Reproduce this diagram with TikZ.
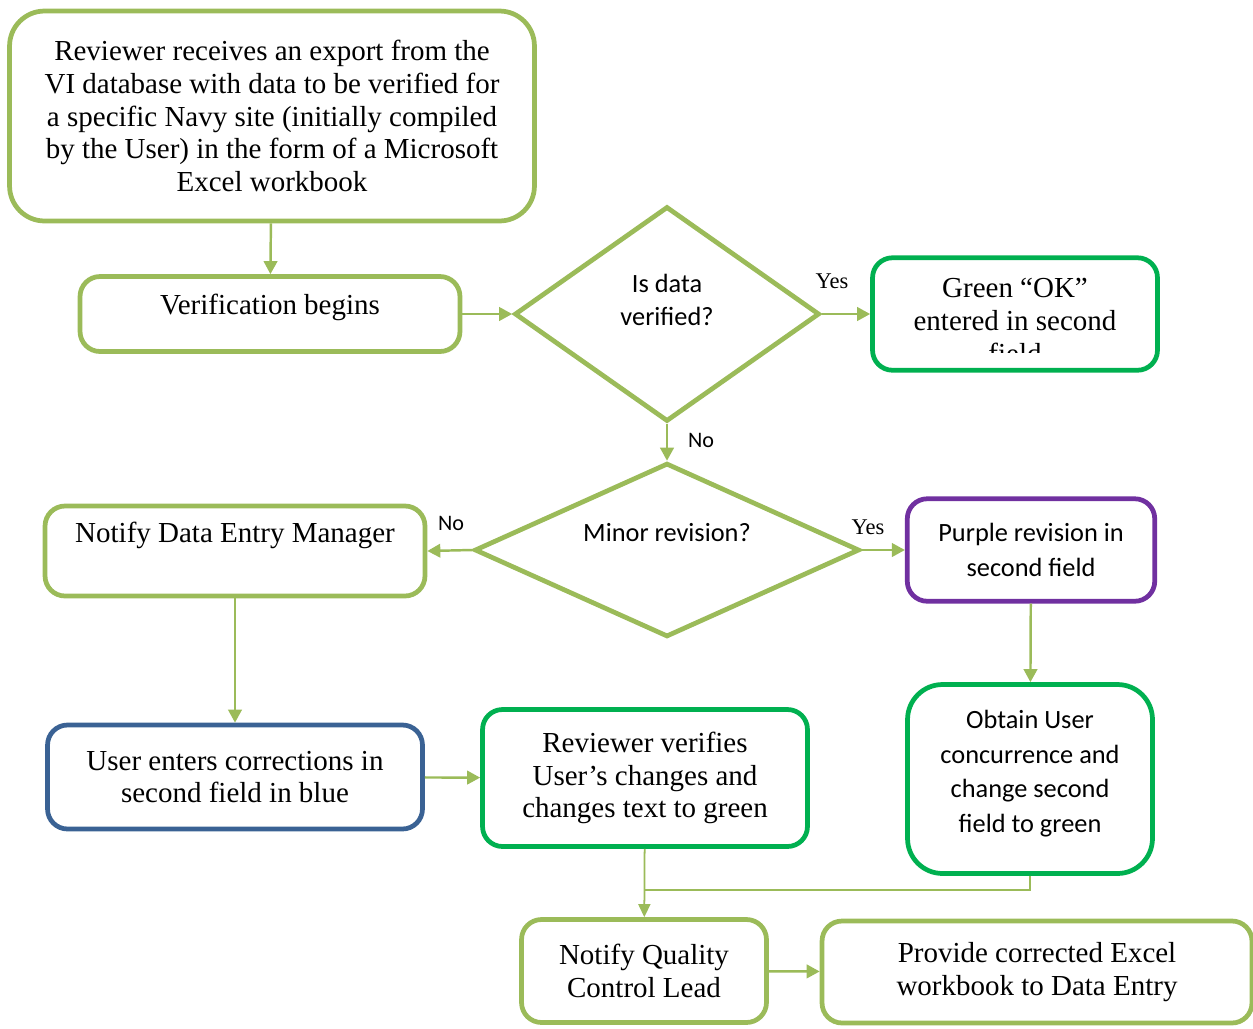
\documentclass[tikz,border=0pt]{standalone}
\usepackage{fontspec}
\setmainfont{Liberation Serif}
\newfontfamily\calibri{Carlito}
\usetikzlibrary{shapes.geometric,arrows.meta}

\definecolor{leafgreen}{HTML}{9BBB59}
\definecolor{okgreen}{HTML}{00B050}
\definecolor{revpurple}{HTML}{7030A0}
\definecolor{userblue}{HTML}{3A6294}

\begin{document}
\begin{tikzpicture}[x=0.02cm, y=-0.02cm,
box/.style={draw=leafgreen, line width=2.7pt, rounded corners=0.4cm, align=center, inner sep=0pt, font=\fontsize{16.5}{18.7}\selectfont},
sansbox/.style={box, font=\calibri\fontsize{15}{19.7}\selectfont},
decision/.style={diamond, draw=leafgreen, line width=2.7pt, align=center, inner sep=0pt, aspect=1.4, font=\calibri\fontsize{15}{18.4}\selectfont},
flow/.style={draw=leafgreen, line width=1.4pt, -{Triangle[length=0.26cm, width=0.27cm]}},
thinflow/.style={draw=leafgreen, line width=1pt},
yeslbl/.style={font=\fontsize{12.8}{15}\selectfont, inner sep=0pt},
nolbl/.style={font=\calibri\fontsize{12.6}{15}\selectfont, inner sep=0pt}]

\useasboundingbox (0,0) rectangle (1253,1028);

\node[box, rounded corners=0.7cm, minimum width=10.5cm, minimum height=4.2cm] (export) at (272,116)
{Reviewer receives an export from the\\VI database with data to be verified for\\a specific Navy site (initially compiled\\by the User) in the form of a Microsoft\\Excel workbook};

\node[box, minimum width=7.6cm, minimum height=1.5cm, text depth=0.4cm] (verif) at (270,314) {Verification begins};

\node[decision, minimum width=6.1cm, minimum height=4.3cm, text depth=0.56cm] (verified) at (667,314) {Is data\\verified?};

\node[box, draw=okgreen, minimum width=5.7cm, minimum height=2.25cm, path picture={
\clip ([yshift=0.36cm]path picture bounding box.south west) rectangle (path picture bounding box.north east);
\node[draw=none, align=center, font=\fontsize{16.5}{18.7}\selectfont] at ([yshift=-0.14cm]path picture bounding box.center) {Green “OK”\\entered in second\\field};
}] (ok) at (1015,314) {};

\node[decision, minimum width=7.7cm, minimum height=3.3cm, text depth=0.72cm] (minor) at (667,550) {Minor revision?};

\node[box, minimum width=7.6cm, minimum height=1.8cm, text depth=0.75cm] (dem) at (235,551) {Notify Data Entry Manager};

\node[sansbox, draw=revpurple, minimum width=4.95cm, minimum height=2.05cm] (purple) at (1031,550) {Purple revision in\\second field};

\node[sansbox, draw=okgreen, rounded corners=0.7cm, minimum width=4.9cm, minimum height=3.78cm, text depth=0.3cm] (obtain) at (1030,779)
{Obtain User\\concurrence and\\change second\\field to green};

\node[box, draw=userblue, minimum width=7.5cm, minimum height=2.08cm] (user) at (235,777) {User enters corrections in\\second field in blue};

\node[box, draw=okgreen, minimum width=6.5cm, minimum height=2.74cm] (rev) at (645,778) {Reviewer verifies\\User’s changes and\\changes text to green};

\node[box, minimum width=4.9cm, minimum height=2.06cm] (qc) at (644,971) {Notify Quality\\Control Lead};

\node[box, minimum width=8.6cm, minimum height=2.04cm] (provide) at (1037,972) {Provide corrected Excel\\workbook to Data Entry};

\coordinate (join) at (645,890);

\draw[flow] (export) -- (verif);

\draw[flow] (verif) -- (verified);

\draw[flow] (verified.east) -- (ok.west);
\node[yeslbl] (yes1) at (832,281) {Yes};

\draw[flow] (verified.south) -- (minor.north);
\node[nolbl] (no1) at (701,440) {No};

\draw[flow] (minor.west) -- (dem.east);
\node[nolbl] (no2) at (451,523) {No};

\draw[flow] (minor.east) -- (purple.west);
\node[yeslbl] (yes2) at (868,527) {Yes};

\draw[flow] (purple) -- (obtain);

\draw[flow] (dem) -- (user);

\draw[flow] (user) -- (rev);

\draw[thinflow, -{Triangle[length=0.26cm, width=0.24cm]}] (rev) -- (qc);

\draw[thinflow] (obtain.south) |- (join);

\draw[flow] (qc) -- (provide);

\end{tikzpicture}
\end{document}
